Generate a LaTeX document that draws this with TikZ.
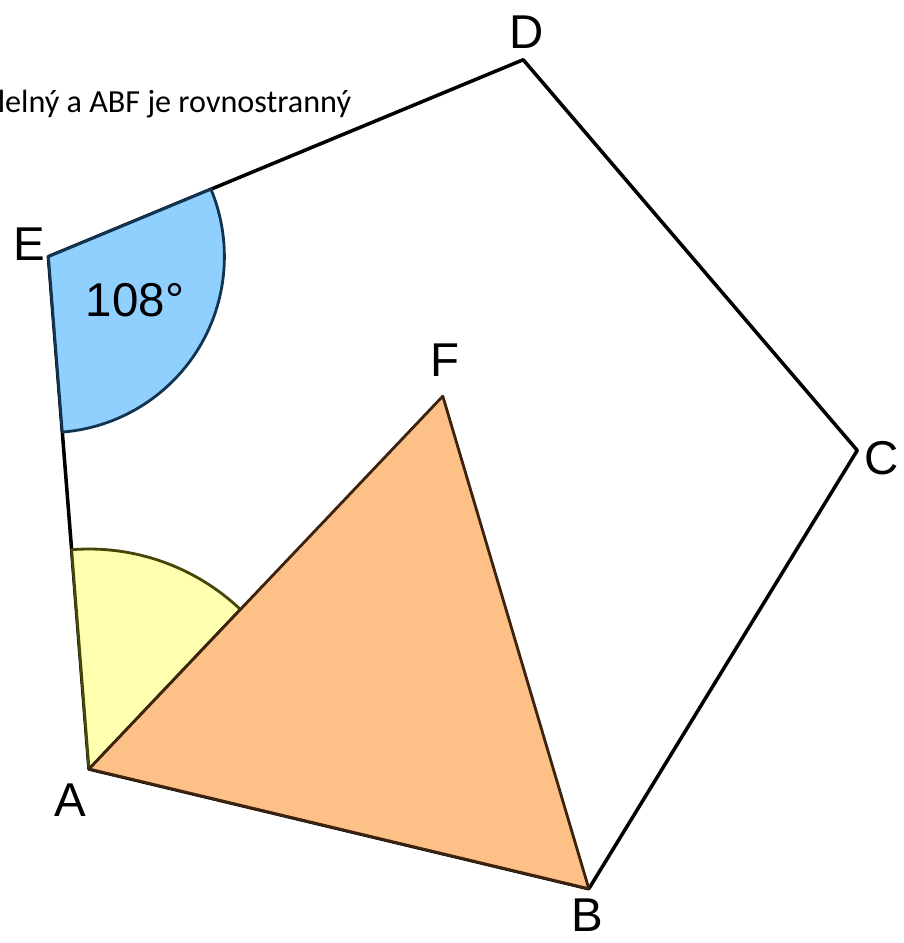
\documentclass[tikz,border=0pt]{standalone}
\usepackage{fontspec}
\setmainfont{Liberation Sans}
\newfontfamily\notefont{Carlito}
\usepackage{tikz}
\definecolor{angBlue}{RGB}{143, 208, 255}
\definecolor{angBlueLine}{RGB}{18, 52, 80}
\definecolor{angYellow}{RGB}{255, 255, 176}
\definecolor{angYellowLine}{RGB}{70, 70, 10}
\definecolor{triOrange}{RGB}{253, 192, 134}
\definecolor{triLine}{RGB}{60, 35, 15}

\begin{document}
\begin{tikzpicture}[line join=round,
    lbl/.style={font=\fontsize{27}{31}\selectfont}]
      \useasboundingbox (0,0) rectangle (18.06,-18.86);

      % Vertices: regular pentagon, side 10.28
      \coordinate (A) at (1.78,-15.38);
      \coordinate (B) at (11.777,-17.775);
      \coordinate (C) at (17.145,-9.008);
      \coordinate (D) at (10.464,-1.195);
      \coordinate (E) at (0.968,-5.133);
      % F: apex of equilateral triangle on AB
      \coordinate (F) at (8.856,-7.923);

      % Pentagon
      \draw[line width=2pt] (A) -- (B) -- (C) -- (D) -- (E) -- cycle;

      % Angle at E = 108
      \draw[angBlueLine, fill=angBlue, line width=1.6pt]
        (E) -- +(-85.47:3.52) arc[start angle=-85.47, end angle=22.53, radius=3.52] -- cycle;

      % Angle EAF
      \draw[angYellowLine, fill=angYellow, line width=1.6pt]
        (A) -- +(46.53:4.4) arc[start angle=46.53, end angle=94.53, radius=4.4] -- cycle;

      % Triangle ABF
      \draw[triLine, fill=triOrange, line width=1.6pt] (A) -- (B) -- (F) -- cycle;

      % Labels
      \node[lbl] (lA) at (1.40,-16.0) {A};
      \node[lbl] (lB) at (11.74,-18.3) {B};
      \node[lbl] (lC) at (17.64,-9.16) {C};
      \node[lbl] (lD) at (10.54,-0.64) {D};
      \node[lbl] (lE) at (0.58,-4.88) {E};
      \node[lbl] (lF) at (8.9,-7.2) {F};
      \node[lbl] (ang) at (2.7,-6.0) {108°};

      \node[anchor=west, inner sep=0pt, font=\notefont\fontsize{18.3}{21}\selectfont]
        (note) at (-0.05,-2.08) {lelný a ABF je rovnostranný};
    \end{tikzpicture}
\end{document}
